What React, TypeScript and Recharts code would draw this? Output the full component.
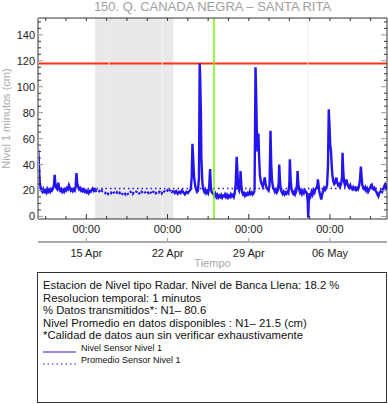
import React from 'react';
import {
  LineChart,
  Line,
  XAxis,
  YAxis,
  ReferenceLine,
  ReferenceArea,
} from 'recharts';

// hours counted from 10 Apr 20:00
const tramoInicial: [number, number][] = [
  [0, 52], [1, 48], [2, 40], [3, 30], [4, 26], [5, 23], [7, 20], [9, 19], [11, 21], [13, 19],
  [15, 20], [17, 18.5], [19, 21], [21, 19], [23, 20.5], [25, 19], [27, 21], [29, 20], [31, 21.5],
  [33, 24], [34.5, 32], [36, 25], [38, 22], [40, 21], [42, 26], [44, 22], [46, 20], [48, 21],
  [50, 19], [52, 20.5], [54, 19], [56, 21], [58, 20], [60, 22], [62, 21], [64, 24], [66, 22],
  [68, 20], [70, 21], [72, 19.5], [74, 21], [76, 20], [78, 23], [79.5, 33.5], [81, 26], [83, 23],
  [85, 21], [87, 22], [89, 20], [91, 21], [93, 19.5], [95, 20.5], [97, 19], [99, 20], [101, 18.5],
  [103, 19.5], [105, 18], [107, 19.5], [109, 19], [111, 20.5], [113, 21.5], [115, 20], [117, 22],
  [118, 19],
];

const tramoSinDatos: [number, number][] = [
  [118, 19], [121, 20], [124, 18.5], [127, 19.5], [130, 18], [133, 20], [136, 19], [139, 18],
  [142, 19.5], [145, 17.5], [148, 19], [151, 18], [154, 20], [157, 18.5], [160, 17], [163, 18.5],
  [166, 16.5], [169, 18], [172, 16], [175, 17.5], [178, 19], [181, 17], [184, 18.5], [187, 16.5],
  [190, 18], [193, 19.5], [196, 17.5], [199, 19], [202, 18], [205, 20], [208, 18.5], [211, 17],
  [214, 19], [217, 18], [220, 19.5], [223, 17.5], [226, 19], [229, 18], [232, 19.5], [235, 17],
  [238, 18.5], [241, 20], [244, 18], [247, 19.5], [250, 18.5], [253, 20], [256, 18], [259, 20.5],
  [262, 19], [265, 18], [268, 20], [271, 18.5], [274, 21], [277, 19], [280, 20],
];

const tramoAbril: [number, number][] = [
  [280, 20], [283, 18], [286, 19.5], [289, 17.5], [292, 19], [295, 18], [298, 20], [301, 18.5],
  [304, 17], [307, 19], [310, 18], [313, 19.5], [316, 21], [318, 30], [319.5, 56], [321, 45],
  [323, 30], [325, 24], [327, 21], [329, 19], [331, 20], [333, 30], [334.5, 118], [335.5, 107],
  [337, 80], [338, 45], [340, 26], [342, 21], [344, 19], [346, 20.5], [348, 18], [350, 19.5],
  [352, 18], [354, 22], [356, 36.5], [357.5, 24], [359, 19], [361, 18], [363, 17], [365, 16],
  [367, 17.5], [369, 15], [371, 16.5], [373, 14.5], [375, 16], [377, 15], [379, 16.5], [381, 14.5],
  [383, 16], [385, 15.5], [387, 17], [389, 15], [391, 16.5], [393, 14.5], [395, 16], [397, 15],
  [399, 17], [401, 15.5], [403, 16.5], [405, 15], [407, 18], [409, 25], [411, 46], [412.5, 35],
  [414, 22], [416, 20], [418, 24], [419, 35], [420.5, 25], [422, 19], [424, 17], [426, 18],
  [428, 16], [430, 17.5], [432, 16.5], [434, 18], [436, 17], [438, 19], [440, 17.5], [442, 18.5],
  [444, 17], [446, 18], [448, 20],
];

const tramoFinal: [number, number][] = [
  [448, 20], [450, 115], [451, 100], [452.5, 70], [454, 50], [456, 64], [457.5, 45], [459, 32],
  [461, 27], [463, 25], [465, 23], [467, 26], [469, 30], [471, 25], [473, 22], [475, 21], [477, 20],
  [479, 24], [481, 66], [482.5, 40], [484, 28], [486, 23], [488, 21], [490, 19], [492, 20.5],
  [494, 18.5], [496, 20], [498, 26], [499, 40], [500.5, 28], [502, 21], [504, 19], [506, 17.5],
  [508, 19], [510, 17], [512, 18.5], [514, 17.5], [516, 19], [518, 18], [520, 25], [521, 44],
  [522.5, 30], [524, 22], [526, 19], [528, 17.5], [530, 19], [532, 17], [534, 19], [536, 25],
  [537, 35], [538.5, 25], [540, 21], [542, 18.5], [544, 20], [546, 17.5], [548, 19.5], [550, 18],
  [552, 20], [554, 19], [556, 18], [558, 12], [559, -1], [560, 10], [562, 18], [564, 16], [566, 19],
  [568, 17], [570, 20], [572, 18.5], [574, 21], [576, 22], [578, 24], [579, 28.5], [580.5, 24],
  [582, 19], [584, 16], [586, 13], [588, 17], [590, 20], [592, 22], [594, 20.5], [596, 22],
  [598, 24], [600, 40], [601.5, 82.5], [603, 70], [604.5, 55], [606, 51], [607.5, 40], [609, 32],
  [611, 27], [613, 25], [615, 26], [617, 30], [619, 26], [621, 24], [623, 25], [625, 23], [627, 25],
  [629, 30], [630, 49], [631.5, 35], [633, 27], [635, 24], [637, 26], [638, 28.5], [640, 25],
  [642, 23], [644, 22], [646, 24], [648, 22], [650, 21], [652, 22.5], [654, 21], [656, 22],
  [658, 20.5], [660, 22], [662, 21], [664, 23], [666, 28], [668, 38.5], [669.5, 30], [671, 24],
  [673, 22], [675, 21], [677, 22.5], [679, 20], [681, 21.5], [683, 19], [685, 20.5], [687, 22],
  [689, 24], [690.5, 24.5], [692, 22], [694, 21], [696, 22], [698, 20], [700, 19], [702, 17],
  [704, 15.5], [706, 18], [708, 19], [710, 20], [712, 19], [714, 21], [716, 23], [718, 24.5],
  [720, 22], [722, 24],
];

const horasMayores = [100, 268, 436, 604];
const etiquetasFecha = ['15 Apr', '22 Apr', '29 Apr', '06 May'];
const horasMenores = [16, 58, 100, 142, 184, 226, 268, 310, 352, 394, 436, 478, 520, 562, 604, 646, 688];
const nivelesMenores = [0, 5, 10, 15, 20, 25, 30, 35, 40, 45, 50, 55, 60, 65, 70, 75, 80, 85, 90, 95, 100, 105, 110, 115, 120, 125, 130, 135, 140, 145, 150];

const nivelBancaLlena = 118;
const nivelPromedio = 21.5;
const inicioSinDatos = 118;
const finSinDatos = 280;
const horaActual = 364;
const horaMarcaTenue = 558;

const toPts = (arr: [number, number][]) => arr.map(([h, v]) => ({ h, v }));

const FONT = '"Liberation Sans", Arial, Helvetica, sans-serif';
const AZUL = '#2414ee';

const BottomTick = (props: any) => {
  const { x, y, payload } = props;
  const major = horasMayores.includes(payload.value);
  return (
    <g>
      <line x1={x} x2={x} y1={y} y2={y - (major ? 5 : 3)} stroke="#333" />
      {major && (
        <text x={x} y={y + 14} textAnchor="middle" fontSize={11} fill="#222" fontFamily={FONT}>
          00:00
        </text>
      )}
    </g>
  );
};

const DateTick = (props: any) => {
  const { x, y, payload } = props;
  const i = horasMayores.indexOf(payload.value);
  return (
    <g>
      <line x1={x} x2={x} y1={y - 1} y2={y - 4} stroke="#999" />
      <text x={x} y={y + 15} textAnchor="middle" fontSize={11} fill="#222" fontFamily={FONT}>
        {etiquetasFecha[i]}
      </text>
    </g>
  );
};

const TopTick = (props: any) => {
  const { x, y } = props;
  return <line x1={x} x2={x} y1={y} y2={y + 3} stroke="#333" />;
};

const LeftTick = (props: any) => {
  const { x, y, payload } = props;
  const major = payload.value % 20 === 0;
  return (
    <g>
      <line x1={x} x2={x + (major ? 5 : 3)} y1={y} y2={y} stroke={major ? '#999' : '#333'} />
      {major && (
        <text x={x - 3} y={y + 4} textAnchor="end" fontSize={11} fill="#222" fontFamily={FONT}>
          {payload.value}
        </text>
      )}
    </g>
  );
};

const RightTick = (props: any) => {
  const { x, y, payload } = props;
  const major = payload.value % 20 === 0;
  return <line x1={x} x2={x - (major ? 6 : 3)} y1={y} y2={y} stroke={major ? '#999' : '#333'} />;
};

const YLabel = (props: any) => {
  const { viewBox } = props;
  const cy = viewBox.y + viewBox.height / 2;
  return (
    <text
      x={10}
      y={cy}
      transform={`rotate(-90 10 ${cy})`}
      textAnchor="middle"
      fontSize={11}
      fill="#aaa"
      fontFamily={FONT}
    >
      Nivel 1 minutos (cm)
    </text>
  );
};

export default function App() {
  return (
    <div
      style={{
        position: 'absolute',
        left: 0,
        top: 0,
        width: 388,
        height: 404,
        background: '#fff',
        fontFamily: FONT,
      }}
    >
      <div
        style={{
          position: 'absolute',
          left: 38,
          width: 349,
          top: -1,
          textAlign: 'center',
          fontSize: 13,
          color: '#a0a0a0',
          whiteSpace: 'nowrap',
        }}
      >
        150. Q. CANADA NEGRA – SANTA RITA
      </div>

      <LineChart width={388} height={270} margin={{ top: 17, right: 0, bottom: 0, left: 0 }}>
        <XAxis
          dataKey="h"
          type="number"
          domain={[0, 722]}
          allowDataOverflow
          ticks={horasMenores}
          tick={<BottomTick />}
          tickLine={false}
          tickSize={0}
          tickMargin={0}
          height={23}
          axisLine={{ stroke: '#333' }}
          interval={0}
        />
        <XAxis
          xAxisId="fechas"
          dataKey="h"
          type="number"
          domain={[0, 722]}
          allowDataOverflow
          ticks={horasMayores}
          tick={<DateTick />}
          tickLine={false}
          tickSize={0}
          tickMargin={0}
          height={28}
          axisLine={{ stroke: '#aaa', strokeWidth: 2 }}
          interval={0}
          label={{ value: 'Tiempo', position: 'insideBottom', offset: 3, fontSize: 11, fill: '#aaa', fontFamily: FONT }}
        />
        <XAxis
          xAxisId="top"
          orientation="top"
          dataKey="h"
          type="number"
          domain={[0, 722]}
          allowDataOverflow
          ticks={horasMenores}
          tick={<TopTick />}
          tickLine={false}
          tickSize={0}
          tickMargin={0}
          height={1}
          axisLine={{ stroke: '#333' }}
          interval={0}
        />
        <YAxis
          type="number"
          domain={[-2, 153]}
          allowDataOverflow
          ticks={nivelesMenores}
          tick={<LeftTick />}
          tickLine={false}
          tickSize={0}
          tickMargin={0}
          width={38}
          axisLine={{ stroke: '#999', strokeWidth: 2 }}
          interval={0}
          label={<YLabel />}
        />
        <YAxis
          yAxisId="right"
          orientation="right"
          type="number"
          domain={[-2, 153]}
          allowDataOverflow
          ticks={nivelesMenores}
          tick={<RightTick />}
          tickLine={false}
          tickSize={0}
          tickMargin={0}
          width={1}
          axisLine={{ stroke: '#333' }}
          interval={0}
        />

        <ReferenceLine y={nivelBancaLlena} stroke="#ff3312" strokeWidth={2} />
        <ReferenceArea
          x1={inicioSinDatos}
          x2={finSinDatos}
          fill="#e4e4e4"
          fillOpacity={0.8}
          stroke="none"
        />
        <ReferenceLine x={147} stroke="#ececec" />
        <ReferenceLine x={257} stroke="#f4f4f4" />
        <ReferenceLine x={horaMarcaTenue} stroke="#eeeeee" />
        <ReferenceLine y={nivelPromedio} stroke={AZUL} strokeDasharray="1.5 3" strokeWidth={1.5} />

        <Line data={toPts(tramoInicial)} dataKey="v" stroke={AZUL} strokeWidth={2.4} dot={false} isAnimationActive={false} />
        <Line data={toPts(tramoSinDatos)} dataKey="v" stroke={AZUL} strokeWidth={2.4} strokeDasharray="2 3" dot={false} isAnimationActive={false} />
        <Line data={toPts(tramoAbril)} dataKey="v" stroke={AZUL} strokeWidth={2.4} dot={false} isAnimationActive={false} />
        <Line data={toPts(tramoFinal)} dataKey="v" stroke={AZUL} strokeWidth={2.4} dot={false} isAnimationActive={false} />

        <ReferenceLine x={horaActual} stroke="#7cf000" strokeWidth={1.5} />
      </LineChart>

      <div
        style={{
          position: 'absolute',
          left: 37,
          top: 272,
          width: 350,
          height: 131,
          boxSizing: 'border-box',
          border: '1px solid #333',
          paddingTop: 6,
          paddingLeft: 5,
          fontSize: 11.3,
          lineHeight: '12.5px',
          color: '#111',
          whiteSpace: 'nowrap',
        }}
      >
        <div>Estacion de Nivel tipo Radar. Nivel de Banca Llena: 18.2 %</div>
        <div>Resolucion temporal: 1 minutos</div>
        <div>% Datos transmitidos*: N1– 80.6</div>
        <div>Nivel Promedio en datos disponibles : N1– 21.5 (cm)</div>
        <div>*Calidad de datos aun sin verificar exhaustivamente</div>
        <div style={{ display: 'flex', alignItems: 'center', height: 12.5, fontSize: 9 }}>
          <svg width={38} height={12}>
            <line x1={0} x2={33} y1={10} y2={10} stroke={AZUL} strokeWidth={1.2} />
          </svg>
          <span>Nivel Sensor Nivel 1</span>
        </div>
        <div style={{ display: 'flex', alignItems: 'center', height: 12.5, fontSize: 9 }}>
          <svg width={38} height={12}>
            <line x1={0} x2={33} y1={10} y2={10} stroke={AZUL} strokeWidth={1.2} strokeDasharray="1.5 3" />
          </svg>
          <span>Promedio Sensor Nivel 1</span>
        </div>
      </div>
    </div>
  );
}
